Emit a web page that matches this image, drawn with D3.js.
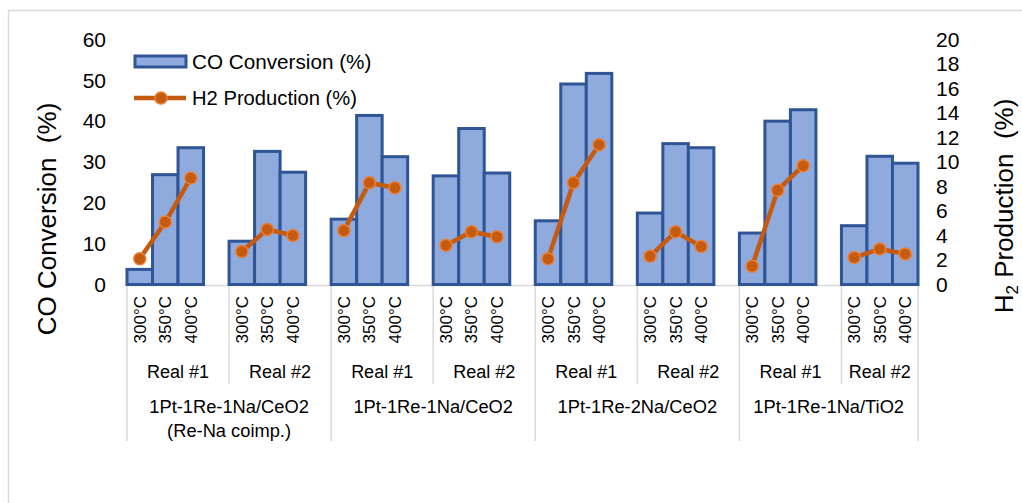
<!DOCTYPE html>
<html><head><meta charset="utf-8">
<script src="https://cdn.jsdelivr.net/npm/d3@7"></script>
<style>
html,body{margin:0;padding:0;background:#fff;}
svg{display:block;font-family:"Liberation Sans",Arial,sans-serif;}
</style></head>
<body><svg id="chart" width="1022" height="503"></svg>
<script>
const materials = [["1Pt-1Re-1Na/CeO2","(Re-Na coimp.)"],["1Pt-1Re-1Na/CeO2"],["1Pt-1Re-2Na/CeO2"],["1Pt-1Re-1Na/TiO2"]];
const runs = ["Real #1","Real #2"];
const temps = ["300°C","350°C","400°C"];
const coConversion = [3.7,26.9,33.5, 10.6,32.6,27.5, 16.0,41.4,31.3, 26.6,38.2,27.3, 15.6,49.1,51.7, 17.5,34.5,33.5, 12.6,40.0,42.8, 14.4,31.4,29.7];
const h2Production = [2.1,5.1,8.7, 2.7,4.5,4.0, 4.4,8.3,7.9, 3.2,4.3,3.9, 2.1,8.3,11.4, 2.3,4.3,3.1, 1.5,7.7,9.7, 2.2,2.9,2.5];
const leftTicks = [0,10,20,30,40,50,60];
const rightTicks = [0,2,4,6,8,10,12,14,16,18,20];

const svg = d3.select("#chart");
const nGroups = materials.length*runs.length;
// slot keys: 3 temps per group + a blank slot between groups
const slots = [];
for (let g=0; g<nGroups; g++){
  temps.forEach((t,i)=>slots.push(g+"-"+i));
  if (g<nGroups-1) slots.push(g+"-blank");
}
const x = d3.scaleBand().domain(slots).range([127,918]).padding(0);
const yL = d3.scaleLinear().domain([0,60]).range([284.5,39.5]);
const yR = d3.scaleLinear().domain([0,20]).range([284.5,39.5]);

const rows = [];
for (let g=0; g<nGroups; g++) temps.forEach((t,i)=>rows.push({g, i, key:g+"-"+i, t, co:coConversion[g*3+i], h2:h2Production[g*3+i]}));

// chart border
svg.append("rect").attr("x",8.5).attr("y",10.5).attr("width",1040).attr("height",520)
  .attr("fill","none").attr("stroke","#d9d9d9").attr("stroke-width",1.5);

const axisColor = "#d9d9d9";
svg.append("line").attr("x1",127).attr("x2",918).attr("y1",285.5).attr("y2",285.5).attr("stroke",axisColor).attr("stroke-width",1.5);
const groupStart = g => x(g+"-0");
const groupEnd = g => g<nGroups-1 ? x(g+"-blank")+x.bandwidth() : x(g+"-2")+x.bandwidth();
for (let g=0; g<=nGroups; g++){
  const xx = g<nGroups ? groupStart(g) : groupEnd(nGroups-1);
  const outer = g%2===0 || g===nGroups;
  svg.append("line").attr("x1",xx).attr("x2",xx).attr("y1",285).attr("y2",outer?441:384)
    .attr("stroke",axisColor).attr("stroke-width",1.5);
}

// bars
svg.append("g").selectAll("rect").data(rows).join("rect")
  .attr("x",d=>x(d.key)).attr("width",x.bandwidth())
  .attr("y",d=>yL(d.co)).attr("height",d=>yL(0)-yL(d.co))
  .attr("fill","#8faadc").attr("stroke","#2f5597").attr("stroke-width",3);

// H2 lines per group
const line = d3.line().x(d=>x(d.key)+x.bandwidth()/2).y(d=>yR(d.h2));
for (let g=0; g<nGroups; g++){
  svg.append("path").datum(rows.filter(r=>r.g===g)).attr("d",line)
    .attr("fill","none").attr("stroke","#c55a11").attr("stroke-width",4.5).attr("stroke-linejoin","round");
}
svg.append("g").selectAll("circle").data(rows).join("circle")
  .attr("cx",d=>x(d.key)+x.bandwidth()/2).attr("cy",d=>yR(d.h2)).attr("r",6)
  .attr("fill","#c55a11").attr("stroke","#ed7d31").attr("stroke-width",1.5);

// axes
const ax1 = svg.append("g").attr("transform","translate(127,0)")
  .call(d3.axisLeft(yL).tickValues(leftTicks).tickSize(0).tickPadding(21).tickFormat(d3.format("d")));
ax1.select(".domain").remove();
ax1.selectAll("text").attr("font-size",21).attr("fill","#000").attr("font-family","Liberation Sans, Arial");
const ax2 = svg.append("g").attr("transform","translate(918,0)")
  .call(d3.axisRight(yR).tickValues(rightTicks).tickSize(0).tickPadding(18).tickFormat(d3.format("d")));
ax2.select(".domain").remove();
ax2.selectAll("text").attr("font-size",21).attr("fill","#000").attr("font-family","Liberation Sans, Arial");

// temperature labels
svg.append("g").selectAll("text").data(rows).join("text")
  .attr("transform",d=>`translate(${x(d.key)+x.bandwidth()/2+6},296) rotate(-90)`)
  .attr("text-anchor","end").attr("font-size",17).attr("fill","#000").text(d=>d.t);

// run labels
for (let g=0; g<nGroups; g++){
  const cx = (groupStart(g)+groupEnd(g))/2;
  svg.append("text").attr("x",cx).attr("y",378).attr("text-anchor","middle")
    .attr("font-size",18).attr("fill","#000").text(runs[g%2]);
}
// material labels
materials.forEach((m,k)=>{
  const cx = (groupStart(2*k)+groupEnd(2*k+1))/2;
  m.forEach((ln,j)=>{
    svg.append("text").attr("x",cx).attr("y",413+j*23.5).attr("text-anchor","middle")
      .attr("font-size",18.3).attr("fill","#000").text(ln);
  });
});

// axis titles
svg.append("text").attr("transform","translate(56,219) rotate(-90)").attr("text-anchor","middle")
  .attr("font-size",26).attr("fill","#000").attr("xml:space","preserve").text("CO Conversion  (%)");
const rt = svg.append("text").attr("transform","translate(1013,206) rotate(-90)").attr("text-anchor","middle")
  .attr("font-size",26).attr("fill","#000").attr("xml:space","preserve");
rt.append("tspan").text("H");
rt.append("tspan").attr("font-size",17).attr("dy",5).text("2");
rt.append("tspan").attr("dy",-5).text(" Production  (%)");

// legend
const lg = svg.append("g");
lg.append("rect").attr("x",135).attr("y",56).attr("width",51).attr("height",11)
  .attr("fill","#8faadc").attr("stroke","#2f5597").attr("stroke-width",3);
lg.append("text").attr("x",192).attr("y",69).attr("font-size",20.7).attr("fill","#000").text("CO Conversion (%)");
lg.append("line").attr("x1",134).attr("x2",186).attr("y1",98).attr("y2",98).attr("stroke","#c55a11").attr("stroke-width",4.5);
lg.append("circle").attr("cx",161).attr("cy",98).attr("r",6).attr("fill","#c55a11").attr("stroke","#ed7d31").attr("stroke-width",1.5);
lg.append("text").attr("x",192).attr("y",105).attr("font-size",20.2).attr("fill","#000").text("H2 Production (%)");
</script></body></html>
